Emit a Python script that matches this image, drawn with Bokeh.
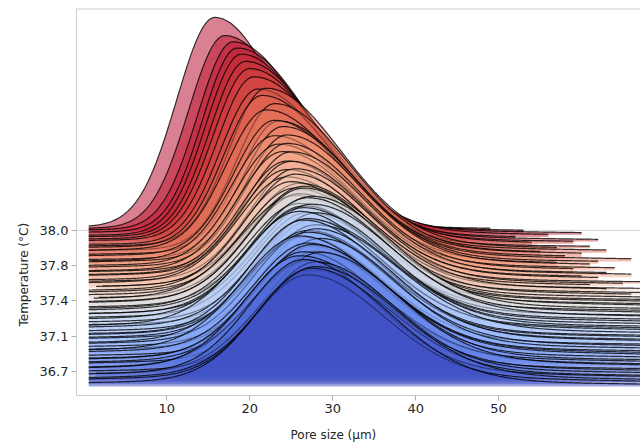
import numpy as np
from bokeh.plotting import figure
from bokeh.models import FixedTicker, Span, Range1d, Title
from bokeh.embed import file_html
from bokeh.resources import INLINE

# ---- data (one ridge per temperature sample, bottom -> top) ----
peak_x = [27.5, 27, 28, 26.5, 27.5, 28, 26, 27, 28.5, 27,
          26.5, 27.5, 28, 27, 26, 27.5, 28.5, 27, 26.5, 28,
          27, 27.5, 26.5, 28, 27, 26, 27.5, 28, 26.5, 27,
          27.5, 26.5, 27, 26, 27.5, 26.5, 26, 25.5, 26.5, 25.5,
          26, 25, 26, 25.5, 24.5, 25.5, 24.5, 25, 24.5, 25,
          24, 24.5, 23.5, 24.5, 23, 24, 23, 23.5, 22, 23,
          21.5, 22, 21, 20.5, 20, 19.5, 19, 18.5, 18, 17.0, 15.8]
peak_h = [119, 110, 116, 121, 108, 114, 118, 111, 117, 106,
          113, 118, 109, 115, 120, 107, 113, 117, 110, 116,
          112, 108, 118, 111, 115, 120, 109, 114, 117, 110,
          116, 112, 118, 110, 115, 121, 113, 109, 116, 112,
          108, 114, 110, 117, 112, 118, 115, 121, 119, 126,
          124, 130, 127, 134, 131, 138, 142, 139, 148, 152,
          158, 163, 160, 170, 176, 181, 186, 190, 194, 198, 214]
sig_left = [6.6, 6.3, 6.8, 6.4, 6.7, 6.2, 6.5, 6.9, 6.3, 6.6,
            6.4, 6.7, 6.2, 6.5, 6.8, 6.3, 6.6, 6.4, 6.9, 6.2,
            6.5, 6.7, 6.3, 6.6, 6.4, 6.8, 6.2, 6.5, 6.7, 6.3,
            6.6, 6.4, 6.5, 6.3, 6.7, 6.4, 6.2, 6.5, 6.3, 6.1,
            6.1, 5.9, 6.0, 5.8, 5.8, 5.6, 5.7, 5.5, 5.5, 5.3,
            5.4, 5.2, 5.2, 5.0, 5.1, 4.9, 4.9, 4.7, 4.8, 4.6,
            4.6, 4.5, 4.5, 4.4, 4.4, 4.3, 4.3, 4.2, 4.3, 4.4, 4.6]
sig_right = [9.3, 9.0, 9.6, 8.8, 9.4, 9.1, 9.7, 8.9, 9.2, 9.5,
             9.0, 9.4, 8.8, 9.3, 9.6, 9.1, 8.9, 9.5, 9.2, 9.0,
             9.4, 8.9, 9.3, 9.6, 9.0, 9.2, 9.5, 8.8, 9.3, 9.1,
             9.4, 9.0, 9.2, 8.9, 9.3, 9.1, 8.8, 9.0, 8.7, 8.9,
             8.8, 8.7, 8.9, 8.6, 8.8, 8.7, 8.9, 8.6, 8.8, 8.7,
             8.9, 8.7, 8.8, 8.6, 8.9, 8.7, 8.8, 8.6, 8.9, 8.7,
             8.8, 8.9, 8.7, 9.0, 8.8, 8.9, 8.7, 9.0, 8.8, 8.6, 8.0]
tail_h = [6, 8, 7, 9, 6, 7, 8, 6, 9, 7,
          8, 6, 7, 9, 8, 6, 7, 8, 6, 9,
          7, 8, 6, 7, 9, 8, 6, 7, 8, 7,
          9, 6, 8, 7, 6, 9, 7, 8, 6, 7,
          8, 7, 9, 6, 8, 7, 6, 9, 7, 8,
          6, 8, 7, 9, 7, 6, 8, 7, 9, 6,
          7, 6, 5, 7, 6, 6, 5, 6, 6, 5, 4]
start_x = [0.6, 0.6, 0.6, 0.6, 1.4, 0.6, 0.6, 0.6, 0.6, 0.6,
           0.6, 0.6, 0.6, 0.6, 0.6, 0.6, 0.6, 0.6, 0.6, 0.6,
           0.6, 0.6, 0.6, 0.6, 0.6, 0.6, 0.6, 0.6, 0.6, 0.6,
           0.6, 0.6, 0.6, 0.6, 0.6, 0.6, 0.6, 1.2, 1.8, 0.6,
           0.6, 0.6, 1.5, 2.2, 0.6, 0.6, 0.6, 0.6, 0.6, 0.6,
           0.6, 0.6, 0.6, 0.6, 0.6, 0.6, 0.6, 0.6, 0.6, 0.6,
           0.6, 0.6, 0.6, 0.6, 0.6, 0.6, 0.6, 0.6, 0.6, 0.6, 0.6]
end_x = [70] * 39 + [68, 66, 69, 63, 67, 61, 65, 68, 62, 60,
                     66, 63, 59, 64, 61, 57, 62, 66, 58, 60,
                     55, 63, 57, 61, 54, 59, 62, 52, 56, 60,
                     53, 49]
temp_labels = ["36.7", "37.1", "37.4", "37.8", "38.0"]
temp_label_ridge = [6.8, 22.6, 38.4, 54.2, 70.0]
x_ticks = [10, 20, 30, 40, 50]

# ---- styling ----
N = len(peak_x)
SPACING = 2.243          # vertical offset between ridges
TAIL_SIGMA = 30.0

cw_stops = [(59, 76, 192), (98, 130, 234), (141, 176, 254), (184, 208, 249),
            (221, 220, 220), (244, 196, 173), (244, 154, 123), (222, 96, 77),
            (180, 4, 38)]

def coolwarm(f):
    pos = f * (len(cw_stops) - 1)
    k = min(int(pos), len(cw_stops) - 2)
    t = pos - k
    a, b = cw_stops[k], cw_stops[k + 1]
    c = [int(round(a[j] + (b[j] - a[j]) * t)) for j in range(3)]
    return "#%02x%02x%02x" % tuple(c)

FONT = "DejaVu Sans"
TXT = "#262626"
X0, X1 = -0.88, 67.1
Y0, Y1 = -9, 380

p = figure(width=640, height=448, x_range=Range1d(X0, X1),
           y_range=Range1d(Y0, Y1), output_backend="svg", toolbar_location=None,
           min_border_left=76, min_border_right=0, min_border_top=8, min_border_bottom=51)
p.outline_line_color = None
p.grid.visible = False
p.background_fill_color = "white"
p.border_fill_color = "white"

# faint baseline line of the top ridge
p.add_layout(Span(location=70 * SPACING, dimension="width", line_color="#d4d4d4",
                  line_width=1, level="underlay"))
# top frame border
p.add_layout(Span(location=Y1, dimension="width", line_color="#cccccc", line_width=2))

for i in reversed(range(N)):
    x = np.linspace(start_x[i], end_x[i], 400)
    pk = peak_x[i]
    g = np.where(x < pk, np.exp(-0.5 * ((x - pk) / sig_left[i]) ** 2),
                 np.exp(-0.5 * ((x - pk) / sig_right[i]) ** 2))
    tail = np.exp(-0.5 * ((x - pk) / TAIL_SIGMA) ** 2)
    base = i * SPACING
    y = base + (peak_h[i] - tail_h[i]) * g + tail_h[i] * tail
    col = coolwarm(i / (N - 1))
    px = np.concatenate([[x[0]], x, [x[-1]]])
    py = np.concatenate([[base], y, [base]])
    p.patch(px, py, fill_color=col, fill_alpha=0.5, line_color=None)
    p.line(x, y, line_color="black", line_alpha=0.78, line_width=1.2)

for ax in (p.xaxis[0], p.yaxis[0]):
    ax.axis_line_color = "#cccccc"
    ax.major_tick_line_color = "#b0b0b0"
    ax.major_tick_out = 5
    ax.major_tick_in = 0
    ax.minor_tick_line_color = None
    ax.major_label_text_font = FONT
    ax.major_label_text_font_size = "13px"
    ax.major_label_text_color = TXT

p.xaxis.ticker = FixedTicker(ticks=x_ticks)
p.xaxis.major_label_standoff = 3

ytick_pos = [r * SPACING for r in temp_label_ridge]
p.yaxis.ticker = FixedTicker(ticks=ytick_pos)
p.yaxis.major_label_overrides = {pos: lab for pos, lab in zip(ytick_pos, temp_labels)}
p.yaxis.major_label_standoff = 3

# axis titles, positioned as in the reference
title_kw = dict(text_font=FONT, text_font_size="12px", text_color=TXT, text_font_style="normal")
try:
    xt = Title(text="Pore size (µm)", align="left", offset=214, standoff=13,
               padding=dict(left=0, right=0, top=4, bottom=0), **title_kw)
except Exception:
    xt = Title(text="Pore size (µm)", align="left", offset=214, standoff=13, **title_kw)
p.add_layout(xt, "below")
p.add_layout(Title(text="Temperature (°C)", align="left", offset=69, standoff=12,
                   **title_kw), "left")

open("out.html", "w").write(file_html(p, INLINE))
